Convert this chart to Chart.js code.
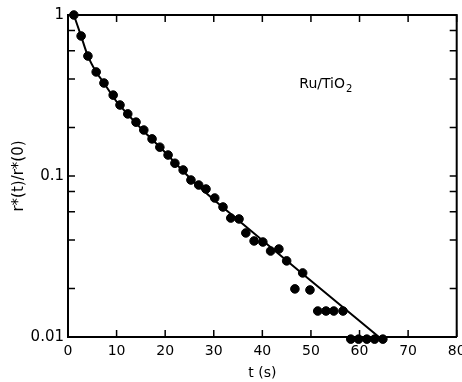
<!DOCTYPE html>
<html>
<head>
<meta charset="utf-8">
<script src="https://cdn.jsdelivr.net/npm/chart.js@4/dist/chart.umd.min.js"></script>
<style>
    html, body { margin: 0; padding: 0; background: #fff; }
    #wrap { width: 462px; height: 382px; }
</style>
</head>
<body>
<div id="wrap"><canvas id="chart" width="462" height="382"></canvas></div>
<script>
'use strict';

// measured points, t in seconds and r*(t)/r*(0)
const timeValues = [
    1.2, 2.7, 4.1, 5.8, 7.4, 9.3, 10.7, 12.3, 14.0, 15.6,
    17.3, 18.9, 20.6, 22.0, 23.7, 25.3, 26.9, 28.4, 30.2, 31.9,
    33.5, 35.2, 36.6, 38.3, 40.1, 41.7, 43.4, 45.0, 46.7, 48.3,
    49.8, 51.4, 53.1, 54.7, 56.6, 58.2, 59.8, 61.5, 63.1, 64.8
];
const ratioValues = [
    1.0, 0.741, 0.556, 0.443, 0.378, 0.318, 0.276, 0.243, 0.216, 0.193,
    0.170, 0.151, 0.135, 0.120, 0.109, 0.0944, 0.0879, 0.083, 0.073, 0.0642,
    0.0548, 0.0541, 0.0443, 0.0395, 0.0389, 0.0342, 0.0352, 0.0297, 0.0199, 0.0250,
    0.0196, 0.0145, 0.0145, 0.0145, 0.0145, 0.0097, 0.0097, 0.0097, 0.0097, 0.0097
];

// fitted curve
const fitTimes = [1.2, 2.7, 4.1, 5.8, 7.4, 10, 15, 20, 25, 31.3, 64];
const fitValues = [1.0, 0.74, 0.556, 0.443, 0.378, 0.29, 0.198, 0.14, 0.098, 0.066, 0.01];

const xTicks = [0, 10, 20, 30, 40, 50, 60, 70, 80];
const yMajorTicks = [0.01, 0.1, 1];
const yTickLabels = ['0.01', '0.1', '1'];
const yMinorTicks = [0.02, 0.04, 0.06, 0.08, 0.2, 0.4, 0.6, 0.8];

const sampleLabel = 'Ru/TiO';
const sampleSub = '2';
const sampleAt = { x: 47.6, y: 0.37 };

const FONT = '"DejaVu Sans", sans-serif';
const INK = '#000';

const framePlugin = {
    id: 'frame',
    afterDraw(chart) {
        const ctx = chart.ctx;
        const area = chart.chartArea;
        const xs = chart.scales.x;
        const ys = chart.scales.y;
        const tick = 7;
        ctx.save();
        ctx.strokeStyle = INK;
        ctx.lineWidth = 2;
        ctx.beginPath();
        ctx.moveTo(area.left, area.top);
        ctx.lineTo(area.right, area.top);
        ctx.lineTo(area.right, area.bottom);
        ctx.stroke();

        ctx.lineWidth = 1.5;
        ctx.beginPath();
        xTicks.forEach((v) => {
            const px = xs.getPixelForValue(v);
            ctx.moveTo(px, area.bottom);
            ctx.lineTo(px, area.bottom - tick);
            ctx.moveTo(px, area.top);
            ctx.lineTo(px, area.top + tick);
        });
        yMajorTicks.concat(yMinorTicks).forEach((v) => {
            const py = ys.getPixelForValue(v);
            ctx.moveTo(area.left, py);
            ctx.lineTo(area.left + tick, py);
            ctx.moveTo(area.right, py);
            ctx.lineTo(area.right - tick, py);
        });
        ctx.stroke();

        // sample label
        const lx = xs.getPixelForValue(sampleAt.x);
        const ly = ys.getPixelForValue(sampleAt.y);
        ctx.fillStyle = INK;
        ctx.textBaseline = 'middle';
        ctx.textAlign = 'left';
        ctx.font = '14px ' + FONT;
        ctx.fillText(sampleLabel, lx, ly);
        const w = ctx.measureText(sampleLabel).width;
        ctx.font = '10px ' + FONT;
        ctx.fillText(sampleSub, lx + w + 1, ly + 5);
        ctx.restore();
    }
};

const chart = new Chart(document.getElementById('chart'), {
    type: 'scatter',
    data: {
        datasets: [
            {
                label: 'fit',
                type: 'line',
                data: fitTimes.map((t, i) => ({ x: t, y: fitValues[i] })),
                borderColor: INK,
                borderWidth: 2,
                pointRadius: 0,
                tension: 0.3,
                fill: false
            },
            {
                label: 'data',
                data: timeValues.map((t, i) => ({ x: t, y: ratioValues[i] })),
                backgroundColor: INK,
                borderColor: INK,
                pointRadius: 4.3,
                pointHoverRadius: 4.3,
                clip: false
            }
        ]
    },
    options: {
        responsive: false,
        animation: false,
        devicePixelRatio: 1,
        layout: { padding: { top: 15, right: 4, left: 0, bottom: 0 } },
        plugins: {
            legend: { display: false },
            tooltip: { enabled: false }
        },
        scales: {
            x: {
                type: 'linear',
                min: 0,
                max: 80,
                afterBuildTicks: (scale) => {
                    scale.ticks = xTicks.map((v) => ({ value: v }));
                },
                afterFit: (scale) => {
                    scale.height = 45;
                    scale.paddingLeft = 0;
                    scale.paddingRight = 0;
                },
                ticks: {
                    color: INK,
                    font: { family: FONT, size: 14 },
                    padding: 6,
                    maxRotation: 0
                },
                grid: { drawOnChartArea: false, drawTicks: false },
                border: { color: INK, width: 2 },
                title: {
                    display: true,
                    text: 't (s)',
                    color: INK,
                    font: { family: FONT, size: 14 },
                    padding: { top: 0, bottom: 0 }
                }
            },
            y: {
                type: 'logarithmic',
                min: 0.01,
                max: 1,
                afterBuildTicks: (scale) => {
                    scale.ticks = yMajorTicks.map((v) => ({ value: v }));
                },
                afterFit: (scale) => {
                    scale.width = 68;
                    scale.paddingTop = 0;
                    scale.paddingBottom = 0;
                },
                ticks: {
                    color: INK,
                    font: { family: FONT, size: 15 },
                    padding: 4,
                    callback: (v) => yTickLabels[yMajorTicks.indexOf(v)]
                },
                grid: { drawOnChartArea: false, drawTicks: false },
                border: { color: INK, width: 2 },
                title: {
                    display: true,
                    text: 'r*(t)/r*(0)',
                    color: INK,
                    font: { family: FONT, size: 15 },
                    padding: { top: 10, bottom: 0 }
                }
            }
        }
    },
    plugins: [framePlugin]
});
</script>
</body>
</html>
